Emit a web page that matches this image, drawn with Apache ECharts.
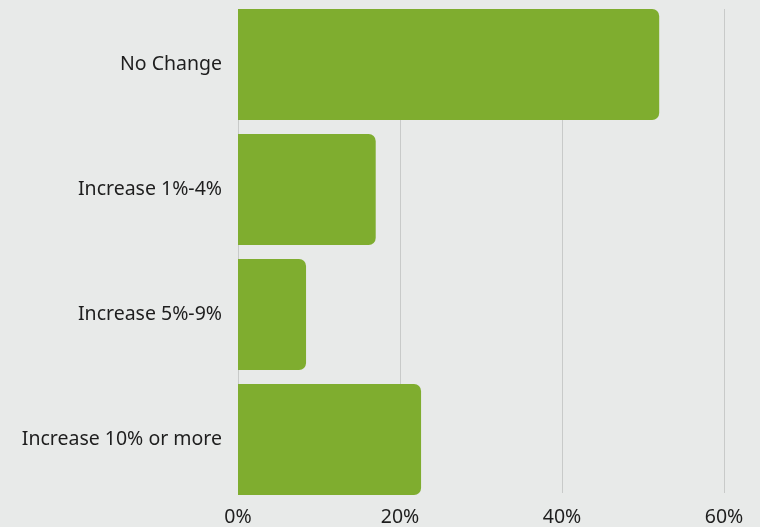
<!DOCTYPE html>
<html><head><meta charset="utf-8">
<script src="https://cdn.jsdelivr.net/npm/echarts@6/dist/echarts.min.js"></script>
<style>html,body{margin:0;padding:0;background:#e8eae9;}#c{width:760px;height:527px;}</style>
</head><body><div id="c"></div>
<script>
var categories = ["No Change", "Increase 1%-4%", "Increase 5%-9%", "Increase 10% or more"];
var values = [52, 17, 8.4, 22.6];
var xTicks = [0, 20, 40, 60];

var chart = echarts.init(document.getElementById('c'), null, {renderer: 'canvas'});
var font = '"Noto Sans", "Open Sans", sans-serif';
chart.setOption({
  backgroundColor: '#e8eae9',
  animation: false,
  grid: [
    {left: 238, right: 36, top: 2, height: 500},
    {left: 238, right: 36, top: 9, height: 486}
  ],
  xAxis: [
    {gridIndex: 0, type: 'value', min: xTicks[0], max: xTicks[xTicks.length - 1], show: false},
    {gridIndex: 1, type: 'value', min: xTicks[0], max: xTicks[xTicks.length - 1], interval: 20,
     axisLine: {show: false}, axisTick: {show: false},
     splitLine: {show: true, lineStyle: {color: '#c8cac9', width: 1}},
     axisLabel: {formatter: '{value}%', fontSize: 19.5, color: '#1e1e1e', fontFamily: font, margin: 14}}
  ],
  yAxis: [
    {gridIndex: 0, type: 'category', data: categories, inverse: true,
     axisLine: {show: false}, axisTick: {show: false},
     axisLabel: {fontSize: 19.5, color: '#1e1e1e', fontFamily: font, margin: 16, padding: [0, 0, 6, 0]}},
    {gridIndex: 1, type: 'value', show: false, min: 0, max: 1}
  ],
  series: [{
    type: 'bar', xAxisIndex: 0, yAxisIndex: 0, data: values,
    barCategoryGap: '11.2%',
    itemStyle: {color: '#7fad2f', borderRadius: [0, 7, 7, 0]},
    z: 3
  }]
});
</script></body></html>
